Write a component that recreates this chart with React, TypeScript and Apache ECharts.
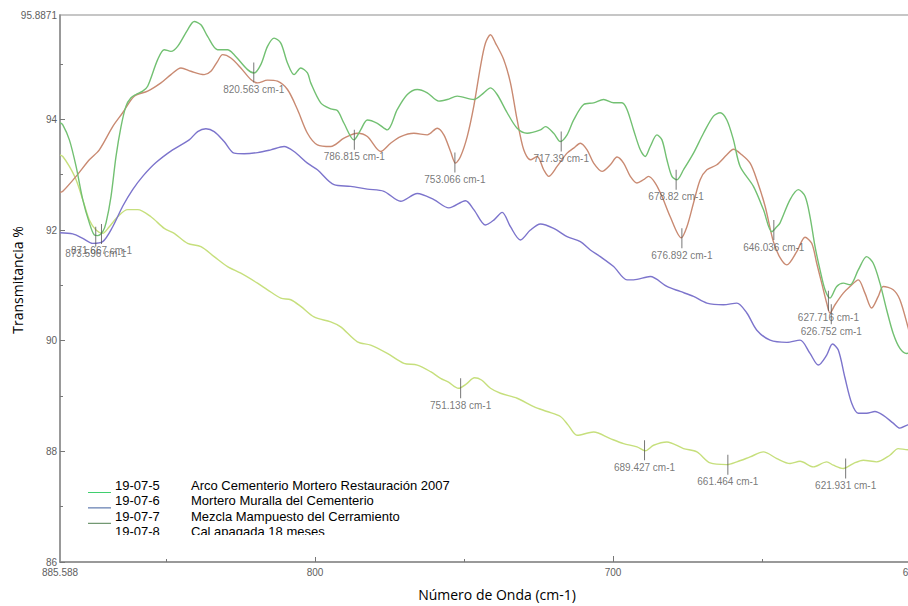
import React, { useEffect, useRef } from "react";
import * as echarts from "echarts";

// [wavenumber cm-1, transmittance %]
const serie5: [number, number][] = [
  [885.59, 93.94], [884.65, 93.9], [882.44, 93.63], [880.19, 93.15], [877.95, 92.55], [875.74, 92.13], [874.06, 91.91], [872.92, 91.9], [871.25, 91.97], [870.14, 92.13], [868.46, 92.61], [866.79, 93.33], [865.11, 93.87], [863.44, 94.24], [861.76, 94.39], [860.09, 94.45], [857.84, 94.51], [856.17, 94.6], [852.81, 95.08], [850.6, 95.26], [848.36, 95.23], [846.11, 95.32], [842.76, 95.62], [840.55, 95.77], [838.3, 95.71], [836.06, 95.5], [832.71, 95.26], [829.36, 95.26], [827.14, 95.17], [822.65, 94.9], [820.44, 94.84], [818.2, 94.99], [815.95, 95.32], [813.74, 95.47], [811.49, 95.38], [809.25, 95.02], [807.04, 94.81], [804.79, 94.93], [802.55, 94.84], [801.44, 94.66], [798.09, 94.3], [794.74, 94.19], [792.49, 94.16], [790.28, 93.93], [786.93, 93.63], [784.69, 93.81], [782.44, 93.99], [779.09, 93.93], [775.74, 93.81], [772.39, 94.18], [769.03, 94.45], [765.68, 94.54], [762.33, 94.48], [758.45, 94.33], [755.63, 94.36], [752.28, 94.42], [746.72, 94.36], [743.37, 94.48], [741.12, 94.57], [738.88, 94.45], [735.52, 94.12], [732.17, 93.84], [728.82, 93.75], [724.36, 93.81], [722.68, 93.87], [719.91, 93.75], [717.66, 93.6], [715.42, 93.72], [713.2, 93.99], [709.85, 94.27], [706.5, 94.3], [703.15, 94.36], [699.8, 94.3], [697.0, 94.3], [695.31, 94.18], [693.1, 93.81], [690.85, 93.45], [689.18, 93.33], [687.5, 93.51], [685.26, 93.72], [683.58, 93.63], [681.91, 93.27], [680.23, 92.97], [678.56, 92.91], [676.34, 93.09], [672.99, 93.39], [669.64, 93.75], [666.29, 94.06], [664.04, 94.12], [661.8, 93.99], [659.59, 93.63], [657.34, 93.15], [652.88, 92.79], [649.53, 92.37], [646.72, 91.97], [645.04, 92.06], [643.94, 92.13], [640.58, 92.55], [637.8, 92.73], [635.56, 92.61], [633.88, 92.24], [632.2, 91.7], [630.53, 91.28], [628.85, 90.92], [627.18, 90.77], [624.93, 90.98], [622.72, 91.04], [620.47, 91.01], [617.69, 91.28], [614.88, 91.52], [612.67, 91.4], [610.42, 91.04], [608.18, 90.56], [605.97, 90.13], [603.72, 89.86], [601.48, 89.77], [600.0, 89.78],
];

const serie6: [number, number][] = [
  [885.59, 92.68], [884.65, 92.7], [880.19, 92.97], [875.74, 93.27], [872.39, 93.45], [867.9, 93.87], [864.55, 94.12], [860.66, 94.42], [856.17, 94.51], [851.71, 94.66], [848.36, 94.81], [845.0, 94.93], [841.65, 94.87], [837.2, 94.81], [834.95, 94.87], [832.71, 95.05], [831.03, 95.17], [828.25, 95.11], [824.9, 94.93], [821.55, 94.72], [819.3, 94.66], [815.95, 94.71], [812.6, 94.69], [809.25, 94.54], [805.9, 94.18], [802.55, 93.75], [799.2, 93.54], [794.74, 93.51], [790.28, 93.66], [785.79, 93.75], [782.44, 93.69], [777.98, 93.42], [774.63, 93.57], [771.28, 93.69], [766.82, 93.75], [762.33, 93.72], [758.98, 93.84], [756.77, 93.72], [754.52, 93.42], [752.85, 93.21], [751.17, 93.33], [748.93, 93.69], [746.72, 94.24], [744.47, 94.96], [742.8, 95.38], [741.12, 95.53], [739.45, 95.38], [736.66, 95.08], [734.42, 94.66], [732.17, 93.99], [729.96, 93.45], [727.72, 93.27], [725.47, 93.33], [723.26, 93.09], [721.58, 92.97], [718.77, 93.15], [715.42, 93.39], [713.2, 93.48], [710.96, 93.57], [708.71, 93.45], [706.5, 93.21], [703.69, 93.06], [700.91, 93.18], [698.66, 93.32], [696.45, 93.21], [694.2, 92.97], [691.96, 92.85], [689.75, 92.91], [688.07, 92.97], [685.83, 92.85], [683.58, 92.61], [680.8, 92.24], [677.1, 91.86], [675.2, 92.06], [672.99, 92.49], [670.75, 92.91], [668.5, 93.09], [665.15, 93.18], [661.8, 93.36], [659.59, 93.46], [656.77, 93.36], [653.99, 93.21], [651.74, 92.91], [648.96, 92.43], [646.18, 91.79], [643.94, 91.5], [641.69, 91.37], [638.34, 91.61], [635.56, 91.87], [633.32, 91.76], [631.64, 91.4], [629.96, 91.04], [628.29, 90.68], [627.18, 90.5], [625.5, 90.65], [622.72, 90.86], [620.47, 90.98], [617.69, 91.1], [615.45, 90.86], [613.2, 90.59], [610.99, 90.8], [609.31, 90.98], [605.97, 90.92], [603.72, 90.74], [601.04, 90.25], [600.0, 90.02],
];

const serie7: [number, number][] = [
  [885.59, 91.95], [881.3, 91.93], [877.95, 91.85], [874.6, 91.76], [871.25, 91.79], [867.9, 92.06], [864.55, 92.43], [861.2, 92.73], [857.84, 92.97], [853.38, 93.22], [847.79, 93.45], [842.23, 93.63], [839.4, 93.78], [836.63, 93.83], [833.85, 93.78], [830.5, 93.6], [827.14, 93.39], [823.79, 93.38], [819.3, 93.4], [814.85, 93.45], [810.39, 93.51], [807.04, 93.42], [802.55, 93.21], [799.2, 93.09], [793.63, 92.82], [788.04, 92.79], [782.44, 92.74], [776.88, 92.7], [771.28, 92.52], [765.68, 92.66], [760.12, 92.55], [755.09, 92.4], [749.5, 92.53], [746.72, 92.37], [742.8, 92.09], [740.01, 92.18], [737.2, 92.32], [734.42, 92.06], [731.07, 91.82], [727.72, 92.0], [724.36, 92.11], [719.91, 92.03], [715.42, 91.88], [710.96, 91.79], [707.61, 91.64], [704.26, 91.52], [699.8, 91.34], [695.31, 91.1], [693.1, 91.1], [687.5, 91.16], [681.91, 90.98], [677.45, 90.89], [672.99, 90.8], [668.5, 90.68], [662.94, 90.65], [658.45, 90.68], [655.1, 90.5], [651.74, 90.19], [647.28, 90.01], [641.69, 89.97], [637.23, 90.01], [633.88, 89.77], [631.1, 89.56], [628.29, 89.74], [626.35, 89.94], [624.4, 89.83], [622.16, 89.33], [619.9, 88.87], [617.69, 88.69], [614.88, 88.69], [612.1, 88.72], [609.3, 88.65], [605.97, 88.51], [603.72, 88.42], [601.04, 88.48], [600.0, 88.49],
];

const serie8: [number, number][] = [
  [885.59, 93.36], [884.65, 93.33], [882.44, 93.15], [880.19, 92.91], [877.95, 92.55], [875.74, 92.18], [873.5, 92.0], [871.25, 91.94], [869.04, 92.06], [866.23, 92.24], [862.87, 92.37], [859.52, 92.37], [855.06, 92.24], [850.6, 92.03], [847.25, 91.94], [842.76, 91.76], [838.3, 91.7], [833.85, 91.52], [829.36, 91.34], [824.9, 91.22], [819.3, 91.04], [815.95, 90.92], [811.49, 90.77], [808.14, 90.74], [804.79, 90.62], [800.34, 90.43], [794.74, 90.34], [791.39, 90.25], [785.79, 89.98], [781.33, 89.92], [775.74, 89.77], [770.17, 89.59], [765.68, 89.56], [761.22, 89.44], [757.87, 89.32], [755.2, 89.25], [751.84, 89.14], [749.17, 89.22], [746.49, 89.33], [744.14, 89.29], [741.12, 89.14], [737.77, 89.05], [732.17, 88.96], [726.61, 88.81], [722.12, 88.72], [717.66, 88.63], [714.98, 88.47], [712.06, 88.29], [706.5, 88.35], [700.91, 88.23], [696.45, 88.14], [691.96, 88.08], [689.18, 88.01], [686.4, 88.11], [681.91, 88.17], [676.34, 88.05], [671.85, 87.99], [667.39, 87.79], [661.8, 87.76], [658.45, 87.81], [653.99, 87.9], [649.53, 87.99], [645.04, 87.87], [640.58, 87.78], [637.23, 87.82], [632.78, 87.72], [628.29, 87.81], [626.07, 87.75], [622.72, 87.69], [619.37, 87.78], [616.02, 87.84], [611.55, 87.81], [607.09, 87.93], [604.31, 88.05], [601.04, 88.03], [600.0, 88.03],
];

const markerWn = [873.596, 871.667, 820.563, 786.815, 753.066, 751.138, 717.39, 689.427, 678.82, 676.892, 661.464, 646.036, 627.716, 626.752, 621.931];
const markerT = [91.88, 91.93, 94.85, 93.63, 93.22, 89.14, 93.6, 88.02, 92.91, 91.85, 87.76, 92.0, 90.72, 90.48, 87.69];
const markerLabels = ["873.596 cm-1", "871.667 cm-1", "820.563 cm-1", "786.815 cm-1", "753.066 cm-1", "751.138 cm-1", "717.39 cm-1", "689.427 cm-1", "678.82 cm-1", "676.892 cm-1", "661.464 cm-1", "646.036 cm-1", "627.716 cm-1", "626.752 cm-1", "621.931 cm-1"];

const xMajor = [600, 700, 800];
const xLabels = [600, 700, 800, 885.588];
const xMinor = [650, 750, 850];
const yMajor = [86, 88, 90, 92, 94];
const yLabels = [86, 88, 90, 92, 94, 95.8871];
const yMinor = [87, 89, 91, 93, 95];

const legendCodes = ["19-07-5", "19-07-6", "19-07-7", "19-07-8"];
const legendNames = ["Arco Cementerio Mortero Restauración 2007", "Mortero Muralla del Cementerio", "Mezcla Mampuesto del Cerramiento", "Cal apagada 18 meses"];
const legendColors = ["#3fcf6e", "#3f5f9f", "#4f7f4f"];

const seriesColors = ["#72c072", "#c98a72", "#7c74cc", "#c6df7c"];

export default function App() {
  const ref = useRef<HTMLDivElement>(null);
  useEffect(() => {
    if (!ref.current) return;
    const chart = echarts.init(ref.current, undefined, { renderer: "svg" });
    const fmt = (v: number) => String(Math.round(v * 10000) / 10000);
    const axisGrey = "#8a8a8a";
    const labelStyle = { color: "#606060", fontSize: 10, fontFamily: "Liberation Sans, Arial, sans-serif" };

    const legendGraphics: any[] = [];
    legendCodes.forEach((code, i) => {
      const y = 485.5 + i * 15.4;
      legendGraphics.push({ type: "text", x: 115, y, style: { text: code, fill: "#000", font: "13px 'Liberation Sans', Arial, sans-serif", textVerticalAlign: "middle" }, z: 10 });
      legendGraphics.push({ type: "text", x: 191, y, style: { text: legendNames[i], fill: "#000", font: "13px 'Liberation Sans', Arial, sans-serif", textVerticalAlign: "middle" }, z: 10 });
      if (i < legendColors.length) {
        legendGraphics.push({ type: "line", shape: { x1: 88, y1: y + 7, x2: 111, y2: y + 7 }, style: { stroke: legendColors[i], lineWidth: 1 }, z: 10 });
      }
    });
    legendGraphics.push({ type: "rect", shape: { x: 84, y: 535, width: 390, height: 22 }, style: { fill: "#fff" }, z: 20 });

    const lineSeries = [serie5, serie6, serie7, serie8].map((d, i) => ({
      type: "line",
      name: legendCodes[i],
      data: d,
      showSymbol: false,
      smooth: 0.3,
      lineStyle: { color: seriesColors[i], width: 1.4 },
      itemStyle: { color: seriesColors[i] },
      z: 3,
    }));

    chart.setOption({
      animation: false,
      backgroundColor: "#ffffff",
      grid: { left: 60, top: 15, width: 851, height: 547, show: true, borderColor: "#b4b4b4", borderWidth: 1.5, backgroundColor: "transparent", containLabel: false, outerBoundsMode: "none" },
      xAxis: [
        {
          type: "value", min: 600, max: 885.588, inverse: true,
          axisLine: { show: true, onZero: false, lineStyle: { color: axisGrey, width: 1.5 } },
          axisTick: { show: true, inside: true, length: 6, customValues: xMajor, lineStyle: { color: "#777" } },
          axisLabel: { ...labelStyle, customValues: xLabels, margin: 5, formatter: fmt },
          splitLine: { show: false },
        },
        {
          type: "value", min: 600, max: 885.588, inverse: true, position: "bottom", gridIndex: 0,
          axisLine: { show: false },
          axisTick: { show: true, inside: true, length: 3, customValues: xMinor, lineStyle: { color: "#777" } },
          axisLabel: { show: false },
          splitLine: { show: false },
        },
      ],
      yAxis: [
        {
          type: "value", min: 86, max: 95.8871,
          axisLine: { show: true, onZero: false, lineStyle: { color: axisGrey, width: 1.5 } },
          axisTick: { show: true, inside: true, length: 5, customValues: yMajor, lineStyle: { color: "#777" } },
          axisLabel: { ...labelStyle, customValues: yLabels, margin: 3, formatter: fmt },
          splitLine: { show: false },
        },
        {
          type: "value", min: 86, max: 95.8871, position: "left", gridIndex: 0,
          axisLine: { show: false },
          axisTick: { show: true, inside: true, length: 3, customValues: yMinor, lineStyle: { color: "#777" } },
          axisLabel: { show: false },
          splitLine: { show: false },
        },
      ],
      series: [
        lineSeries[3], lineSeries[2], lineSeries[1], lineSeries[0],
        {
          type: "scatter",
          symbol: "rect",
          symbolSize: [1, 20],
          itemStyle: { color: "#555" },
          z: 5,
          data: markerWn.map((w, i) => ({ name: markerLabels[i], value: [w, markerT[i]] })),
          label: {
            show: true, position: "bottom", distance: 2,
            formatter: (p: any) => p.name,
            color: "#555", fontSize: 10, fontFamily: "Liberation Sans, Arial, sans-serif",
          },
          labelLayout: { hideOverlap: false },
        },
      ],
      graphic: [
        { type: "text", x: 17, y: 280, rotation: Math.PI / 2, style: { text: "Transmitancia %", fill: "#000", font: "14px 'Open Sans', sans-serif", textAlign: "center", textVerticalAlign: "middle" } },
        { type: "text", x: 497, y: 594, style: { text: "Número de Onda (cm-1)", fill: "#000", font: "14px 'Open Sans', sans-serif", textAlign: "center", textVerticalAlign: "middle" } },
        ...legendGraphics,
      ],
    });
    return () => chart.dispose();
  }, []);
  return <div ref={ref} style={{ position: "fixed", left: 0, top: 0, width: 908, height: 606, background: "#fff" }} />;
}
